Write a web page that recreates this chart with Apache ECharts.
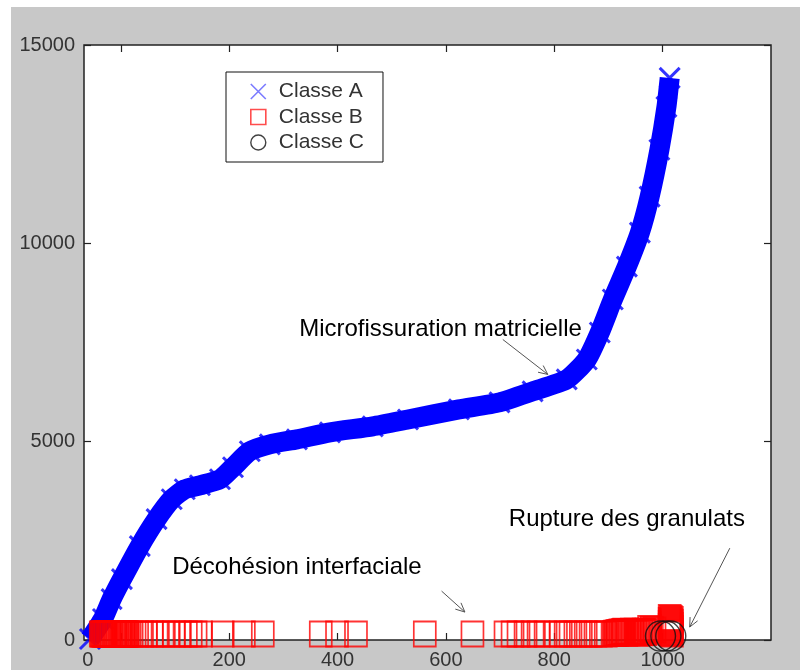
<!DOCTYPE html>
<html>
<head>
<meta charset="utf-8">
<script src="https://cdn.jsdelivr.net/npm/echarts@6/dist/echarts.min.js"></script>
<style>html,body{margin:0;padding:0;background:#fff}#c{width:800px;height:670px}</style>
</head>
<body>
<div id="c"></div>
<script>
// ---- data ----
const xTickValues = [0, 200, 400, 600, 800, 1000];
const xTickLabels = ['0', '200', '400', '600', '800', '1000'];
const xLabelAt = [-61, 200, 400, 600, 800, 1000];
const yTickValues = [0, 5000, 10000, 15000];
const yTickLabels = ['0', '5000', '10000', '15000'];

const classeAX = [-57, -33, -17, 2, 35, 66, 94, 118, 146, 183, 207, 238, 275, 325, 386, 465, 530, 624, 699, 760, 823, 860, 884, 908, 934, 958, 976, 994, 1007, 1013];
const classeAY = [25, 530, 1030, 1535, 2366, 3046, 3549, 3800, 3900, 4052, 4354, 4757, 4933, 5059, 5235, 5386, 5560, 5814, 5990, 6267, 6569, 7073, 7752, 8583, 9413, 10269, 11176, 12358, 13441, 14170];

const classeBX = [-37, -35, -34, -32, -31, -29, -28, -26, -24, -23, -21, -20, -18, -17, -15, -13, -12, -10, -9, -7, -6, -4, -2, -1, 1, 2, 4, 5, 7, 9, 10, 12, 13,
  20, 30, 39, 46, 57, 66, 77, 87, 98, 109, 120, 129, 138, 148,
  188, 227, 262, 369, 399, 434, 561, 649,
  710, 723, 734, 747, 760, 771, 784,
  803, 812, 821, 830, 839, 849, 858, 867, 876, 886, 895,
  910, 912, 913, 915, 917, 918, 921, 922, 924, 926, 928, 929, 932, 933, 935, 937, 939, 940, 943, 944, 946, 948, 950, 951, 954, 955, 957, 959, 961, 962, 965, 966, 968, 970,
  975, 980, 985,
  1013, 1015, 1017, 1013, 1015, 1017, 1013, 1015, 1017, 1013, 1015, 1017, 1013, 1015, 1017, 1013, 1015, 1017];
const classeBY = [150, 150, 150, 150, 150, 150, 150, 150, 150, 150, 150, 150, 150, 150, 150, 150, 150, 150, 150, 150, 150, 150, 150, 150, 150, 150, 150, 150, 150, 150, 150, 150, 150,
  150, 150, 150, 150, 150, 150, 150, 150, 150, 150, 150, 150, 150, 150,
  150, 150, 150, 150, 150, 150, 150, 150,
  150, 150, 150, 150, 150, 150, 150,
  150, 150, 150, 150, 150, 150, 150, 150, 150, 150, 150,
  160, 170, 160, 180, 170, 190, 180, 200, 190, 210, 200, 220, 190, 170, 200, 180, 210, 190, 220, 200, 210, 190, 220, 180, 200, 170, 210, 190, 200, 180, 220, 210, 190, 220,
  290, 270, 250,
  566, 540, 515, 490, 465, 440, 415, 390, 365, 340, 315, 290, 265, 240, 215, 190, 170, 150];

const classeCX = [996, 1006, 1015];
const classeCY = [100, 100, 100];

const annotTexts = ['Microfissuration matricielle', 'Décohésion interfaciale', 'Rupture des granulats'];
const annotTextX = [590, 325, 934];
const annotTextY = [7830, 1830, 3050];
const arrowFromX = [705, 592, 1124];
const arrowFromY = [7576, 1233, 2316];
const arrowToX = [788, 635, 1050];
const arrowToY = [6695, 705, 327];

// ---- chart ----
const pairs = (xs, ys) => xs.map((x, i) => [x, ys[i]]);
const xPath = 'path://M0,0L10,10M10,0L0,10';
const sqPath = 'path://M0,0H10V10H0Z';
const tickFont = '"Liberation Sans", Arial, sans-serif';
const tickStyle = {color: '#222', width: 1.2};
const chart = echarts.init(document.getElementById('c'), null, {renderer: 'canvas'});

const option = {
  backgroundColor: '#c8c8c8',
  animation: false,
  grid: {left: 84, top: 45, right: 29, bottom: 29, show: true, backgroundColor: '#fff', borderColor: '#222', borderWidth: 1.5, containLabel: false},
  xAxis: [{
    type: 'value', min: -68, max: 1200, position: 'bottom',
    axisLine: {show: false, onZero: false}, splitLine: {show: false},
    axisTick: {show: true, inside: true, length: 7, customValues: xTickValues, lineStyle: tickStyle},
    axisLabel: {customValues: xLabelAt, formatter: v => xTickLabels[xLabelAt.indexOf(v)], fontSize: 20, color: '#333', fontFamily: tickFont, margin: 10}
  }, {
    type: 'value', min: -68, max: 1200, position: 'top',
    axisLine: {show: false, onZero: false}, splitLine: {show: false}, axisLabel: {show: false},
    axisTick: {show: true, inside: true, length: 7, customValues: xTickValues, lineStyle: tickStyle}
  }],
  yAxis: [{
    type: 'value', min: 0, max: 15000, position: 'left',
    axisLine: {show: false, onZero: false}, splitLine: {show: false},
    axisTick: {show: true, inside: true, length: 7, customValues: yTickValues, lineStyle: tickStyle},
    axisLabel: {customValues: yTickValues, formatter: v => yTickLabels[yTickValues.indexOf(v)], fontSize: 20, color: '#333', fontFamily: tickFont, margin: 9}
  }, {
    type: 'value', min: 0, max: 15000, position: 'right',
    axisLine: {show: false, onZero: false}, splitLine: {show: false}, axisLabel: {show: false},
    axisTick: {show: true, inside: true, length: 7, customValues: yTickValues, lineStyle: tickStyle}
  }],
  legend: {
    orient: 'vertical', left: 226, top: 72,
    padding: [9, 19, 9, 24], itemGap: 4.5, itemWidth: 31, itemHeight: 15,
    borderColor: '#111', borderWidth: 1, backgroundColor: '#fff',
    textStyle: {fontSize: 21, color: '#333', fontFamily: 'Arial, "Liberation Sans", sans-serif', lineHeight: 21},
    data: [
      {name: 'Classe A', icon: xPath, itemStyle: {color: 'rgba(0,0,0,0)', borderColor: '#5a5aff', borderWidth: 1.6}},
      {name: 'Classe B', icon: sqPath, itemStyle: {color: 'rgba(0,0,0,0)', borderColor: '#ff2020', borderWidth: 1.6}},
      {name: 'Classe C', icon: 'circle', itemStyle: {color: 'rgba(0,0,0,0)', borderColor: '#111', borderWidth: 1.4}}
    ]
  },
  series: [{
    name: 'bandeA', type: 'line', data: pairs(classeAX, classeAY),
    showSymbol: false, silent: true, smooth: 0.2,
    lineStyle: {color: '#0000ff', width: 20, cap: 'butt', join: 'round'}, z: 2
  }, {
    name: 'Classe A', type: 'scatter', data: pairs(classeAX, classeAY),
    symbol: xPath, symbolSize: 20,
    itemStyle: {color: 'rgba(0,0,0,0)', borderColor: '#0000ff', borderWidth: 3}, z: 3
  }, {
    name: 'Classe B', type: 'scatter', data: pairs(classeBX, classeBY),
    symbol: 'rect', symbolSize: [22, 25],
    itemStyle: {color: 'rgba(0,0,0,0)', borderColor: '#ff0000', borderWidth: 1.8}, z: 4
  }, {
    name: 'Classe C', type: 'scatter', data: pairs(classeCX, classeCY),
    symbol: 'circle', symbolSize: 30,
    itemStyle: {color: 'rgba(0,0,0,0)', borderColor: '#111', borderWidth: 1.4}, z: 5
  }],
  graphic: [
    {id: 'wl', type: 'rect', left: 0, top: 0, shape: {width: 11, height: 670}, style: {fill: '#fff'}, z: -10},
    {id: 'wt', type: 'rect', left: 0, top: 0, shape: {width: 800, height: 7}, style: {fill: '#fff'}, z: -10}
  ]
};
chart.setOption(option);

// annotations placed in data coordinates
const g = [];
annotTexts.forEach((t, i) => {
  const p = chart.convertToPixel({gridIndex: 0}, [annotTextX[i], annotTextY[i]]);
  g.push({id: 'at' + i, type: 'text', x: p[0], y: p[1], z: 20,
    style: {text: t, fill: '#000', font: '24px Arial, "Liberation Sans", sans-serif', textAlign: 'center', textVerticalAlign: 'middle'}});
  const a = chart.convertToPixel({gridIndex: 0}, [arrowFromX[i], arrowFromY[i]]);
  const b = chart.convertToPixel({gridIndex: 0}, [arrowToX[i], arrowToY[i]]);
  const dx = b[0] - a[0], dy = b[1] - a[1], L = Math.hypot(dx, dy);
  const ux = dx / L, uy = dy / L, ang = 25 * Math.PI / 180, hl = 10;
  const h1 = [b[0] - hl * (ux * Math.cos(ang) - uy * Math.sin(ang)), b[1] - hl * (uy * Math.cos(ang) + ux * Math.sin(ang))];
  const h2 = [b[0] - hl * (ux * Math.cos(-ang) - uy * Math.sin(-ang)), b[1] - hl * (uy * Math.cos(-ang) + ux * Math.sin(-ang))];
  g.push({id: 'al' + i, type: 'line', z: 20, shape: {x1: a[0], y1: a[1], x2: b[0], y2: b[1]}, style: {stroke: '#555', lineWidth: 1}});
  g.push({id: 'ah' + i, type: 'polyline', z: 20, shape: {points: [h1, b, h2]}, style: {stroke: '#555', lineWidth: 1, fill: null}});
});
chart.setOption({graphic: g});
</script>
</body>
</html>
